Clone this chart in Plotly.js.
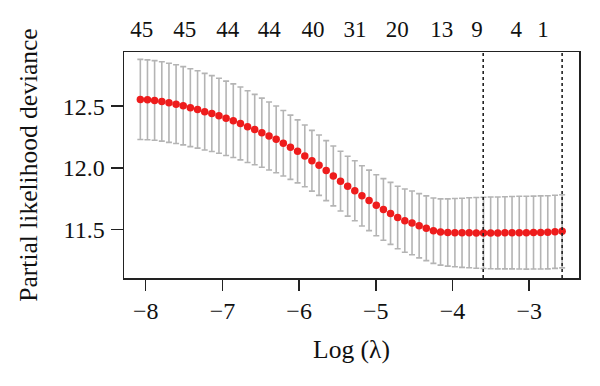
<!DOCTYPE html>
<html>
<head>
<meta charset="utf-8">
<script src="https://cdn.plot.ly/plotly-3.0.1.min.js"></script>
<style>html,body{margin:0;padding:0;background:#fff;}#chart{width:600px;height:386px;}</style>
</head>
<body>
<div id="chart"></div>
<script>
// log(lambda) grid
const logLambda = [-8.070,-7.977,-7.884,-7.790,-7.697,-7.604,-7.511,-7.418,-7.324,-7.231,
  -7.138,-7.045,-6.952,-6.858,-6.765,-6.672,-6.579,-6.486,-6.392,-6.299,
  -6.206,-6.113,-6.020,-5.926,-5.833,-5.740,-5.647,-5.554,-5.460,-5.367,
  -5.274,-5.181,-5.088,-4.994,-4.901,-4.808,-4.715,-4.622,-4.528,-4.435,
  -4.342,-4.249,-4.156,-4.062,-3.969,-3.876,-3.783,-3.690,-3.596,-3.503,
  -3.410,-3.317,-3.224,-3.130,-3.037,-2.944,-2.851,-2.758,-2.664,-2.571];
// mean partial likelihood deviance
const cvm = [12.554,12.551,12.546,12.538,12.527,12.516,12.503,12.487,12.473,12.455,
  12.440,12.422,12.401,12.382,12.360,12.334,12.310,12.285,12.258,12.231,
  12.199,12.167,12.134,12.097,12.058,12.022,11.978,11.935,11.893,11.852,
  11.815,11.774,11.737,11.698,11.664,11.632,11.599,11.573,11.555,11.532,
  11.512,11.492,11.481,11.477,11.476,11.475,11.475,11.474,11.474,11.474,
  11.474,11.475,11.476,11.476,11.476,11.477,11.478,11.479,11.483,11.487];
// standard error
const cvsd = [0.324,0.323,0.322,0.321,0.320,0.319,0.317,0.315,0.313,0.310,
  0.307,0.304,0.301,0.298,0.295,0.290,0.285,0.280,0.275,0.270,
  0.265,0.260,0.255,0.250,0.246,0.244,0.243,0.242,0.242,0.242,
  0.243,0.244,0.245,0.247,0.249,0.251,0.253,0.256,0.258,0.260,
  0.262,0.265,0.268,0.272,0.276,0.280,0.283,0.286,0.288,0.290,
  0.291,0.292,0.293,0.294,0.295,0.295,0.296,0.296,0.296,0.296];
// number of nonzero coefficients (top axis)
const topTickVals = [-8.05,-7.49,-6.93,-6.39,-5.82,-5.27,-4.72,-4.14,-3.68,-3.17,-2.82];
const topTickText = ['45','45','44','44','40','31','20','13','9','4','1'];
const xTickVals = [-8,-7,-6,-5,-4,-3];
const yTickVals = [11.5,12.0,12.5];
const yTickText = ['11.5','12.0','12.5'];
const lambdaMin = -3.60;
const lambda1se = -2.571;

const FONT = 'Liberation Serif, Times New Roman, serif';
const xRange = [-8.283, -2.351];
const yRange = [11.109, 12.938];

const traces = [
  {
    x: logLambda, y: cvm, type: 'scatter', mode: 'markers',
    marker: {color: '#ee1c1c', size: 7.5},
    error_y: {type: 'data', array: cvsd, visible: true, color: '#b4b4b4', thickness: 1.6, width: 3},
    hoverinfo: 'skip', showlegend: false
  },
  {
    x: topTickVals, y: topTickVals.map(() => null), xaxis: 'x2', type: 'scatter',
    mode: 'markers', showlegend: false, hoverinfo: 'skip'
  }
];

const layout = {
  width: 600, height: 386,
  margin: {l: 124, r: 21, t: 52, b: 108},
  paper_bgcolor: '#fff', plot_bgcolor: '#fff',
  font: {family: FONT, size: 24, color: '#111'},
  showlegend: false,
  xaxis: {
    range: xRange, tickvals: xTickVals, ticks: 'outside', ticklen: 11, tickwidth: 1.5,
    tickcolor: '#222', showgrid: false, zeroline: false,
    showline: true, mirror: true, linecolor: '#222', linewidth: 1.5,
    tickfont: {family: FONT, size: 24}, ticklabelstandoff: 0,
    title: {text: 'Log (λ)', font: {family: FONT, size: 25.5}, standoff: 17}
  },
  xaxis2: {
    range: xRange, overlaying: 'x', side: 'top', tickvals: topTickVals, ticktext: topTickText,
    ticks: '', showgrid: false, zeroline: false, showline: false,
    tickfont: {family: FONT, size: 23}, ticklabelstandoff: 9
  },
  yaxis: {
    range: yRange, tickvals: yTickVals, ticktext: yTickText, ticks: 'outside', ticklen: 12, tickwidth: 1.5,
    tickcolor: '#222', showgrid: false, zeroline: false,
    showline: true, mirror: true, linecolor: '#222', linewidth: 1.5,
    tickfont: {family: FONT, size: 24}, ticklabelstandoff: 1,
    title: {text: 'Partial likelihood deviance', font: {family: FONT, size: 25.5}, standoff: 18}
  },
  shapes: [lambdaMin, lambda1se].map(v => ({
    type: 'line', xref: 'x', yref: 'paper', x0: v, x1: v, y0: 0, y1: 1,
    line: {color: '#222', width: 1.6, dash: 'dot'}
  }))
};

Plotly.newPlot('chart', traces, layout, {displayModeBar: false, staticPlot: true});
</script>
</body>
</html>
